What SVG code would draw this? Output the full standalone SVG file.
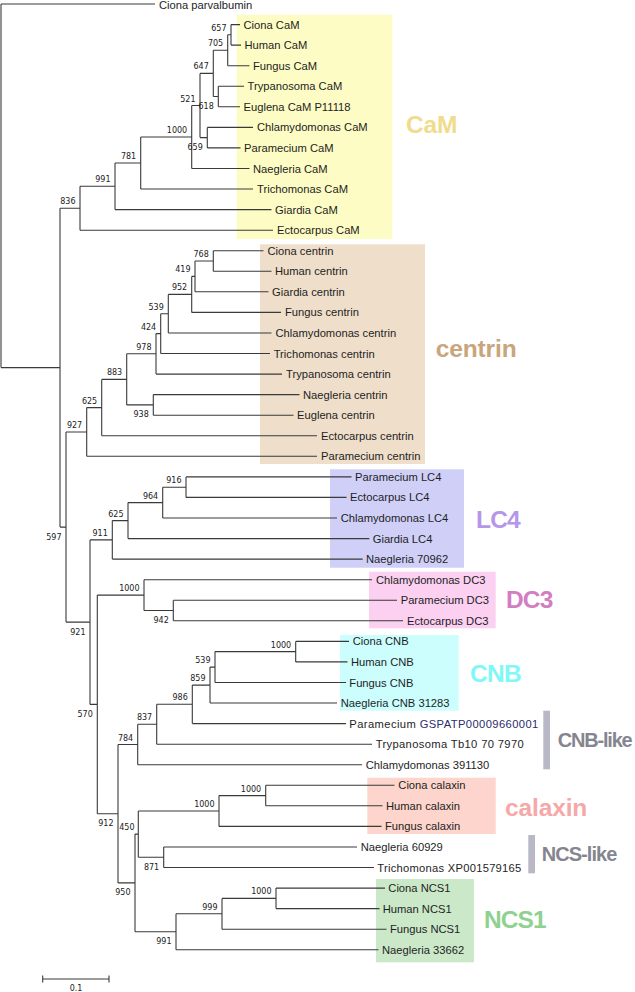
<svg xmlns="http://www.w3.org/2000/svg" width="635" height="992" viewBox="0 0 635 992">
<style>
.br{fill:none;stroke:#3a3a3a;stroke-width:1.1}
.lf{font-family:"Liberation Sans",Arial,sans-serif;font-size:11.2px;fill:#1e1e1e}
.bs{font-family:"DejaVu Sans",sans-serif;font-size:8px;fill:#222;text-anchor:end}
.cl{font-family:"Liberation Sans",Arial,sans-serif;font-weight:bold;font-size:24.5px}
.cs{font-family:"Liberation Sans",Arial,sans-serif;font-weight:bold;font-size:20px;fill:#858590}
</style>
<rect width="635" height="992" fill="#fff"/>
<g id="clades">
<rect x="236.7" y="14.7" width="155.6" height="224.3" fill="#fdfcc4"/>
<rect x="260" y="244.3" width="165" height="219.7" fill="#efdfca"/>
<rect x="330" y="469.3" width="134" height="98.4" fill="#cfcff7"/>
<rect x="369" y="571.7" width="126.7" height="56.6" fill="#fbd0f1"/>
<rect x="340" y="635" width="118.7" height="75.7" fill="#ccfefe"/>
<rect x="367.3" y="777.7" width="128.4" height="56.3" fill="#fdd5cc"/>
<rect x="376" y="879" width="98" height="83.3" fill="#cbe8c9"/>
<rect x="543.3" y="710.7" width="6.7" height="58.6" fill="#b8b8c6"/>
<rect x="528.3" y="835" width="6.7" height="38.3" fill="#b8b8c6"/>
<text class="cl" x="406" y="133.3" fill="#f0dc8c" textLength="51.3">CaM</text>
<text class="cl" x="435.7" y="357.3" fill="#c9a57c" textLength="81">centrin</text>
<text class="cl" x="476" y="528.3" fill="#b596e8" textLength="44.7">LC4</text>
<text class="cl" x="506" y="608.3" fill="#d17fc2" textLength="47.3">DC3</text>
<text class="cl" x="470" y="681.7" fill="#80f8f8" textLength="51.7">CNB</text>
<text class="cs" x="557.7" y="747.3" textLength="75">CNB-like</text>
<text class="cl" x="505" y="816" fill="#f6a8a8" textLength="82.3">calaxin</text>
<text class="cs" x="541.7" y="861" textLength="75.7">NCS-like</text>
<text class="cl" x="484" y="928.3" fill="#8fd18f" textLength="62.7">NCS1</text>
</g>
<g id="connectors" class="br">
<path d="M1,4V367.6M1,367.6H60M60,208.2V527.1"/>
<path d="M60,208.2H80M80,186.3V230.2M80,186.3H115M115,163V209.6M115,163H140.7M140.7,137V189M140.7,137H191.7M191.7,105.5V168.5M191.7,105.5H200M200,73.4V137.6M200,73.4H213.3M213.3,50.3V96.5M213.3,50.3H227.7M227.7,34.8V65.7M227.7,34.8H231M231,24.6V45.1M213.3,96.5H218.3M218.3,86.2V106.8M200,137.6H207.3M207.3,127.4V147.9"/>
<path d="M60,527.1H66M66,432V622.1M66,432H86.7M86.7,407.6V456.3M86.7,407.6H101.7M101.7,379.4V435.8M101.7,379.4H126.7M126.7,353.8V404.9M126.7,353.8H156M156,333.6V374.1M156,333.6H160.7M160.7,313.7V353.5M160.7,313.7H168.3M168.3,294.4V333M168.3,294.4H191.7M191.7,276.4V312.4M191.7,276.4H195M195,261V291.8M195,261H213.3M213.3,250.7V271.3M126.7,404.9H153.3M153.3,394.6V415.2"/>
<path d="M66,622.1H90M90,539.9V704.4M90,539.9H112.3M112.3,520.6V559.1M112.3,520.6H128M128,502.6V538.6M128,502.6H162.7M162.7,487.2V518M162.7,487.2H186M186,476.9V497.4"/>
<path d="M90,704.4H97.3M97.3,595.1V813.7M97.3,595.1H144M144,579.7V610.5M144,610.5H173.3M173.3,600.2V620.8M97.3,813.7H118M118,744.5V882.9M118,744.5H137.7M137.7,724.2V764.7M137.7,724.2H156.7M156.7,704.3V744.2M156.7,704.3H192.3M192.3,685.1V723.6M192.3,685.1H210M210,667.1V703M210,667.1H215M215,651.6V682.5M215,651.6H295.7M295.7,641.4V661.9"/>
<path d="M118,882.9H135M135,834.1V931.8M135,834.1H138.3M138.3,811V857.2M138.3,811H219M219,795.6V826.4M219,795.6H265.7M265.7,785.3V805.8M138.3,857.2H163.7M163.7,847V867.5M135,931.8H176M176,913.8V949.8M176,913.8H222M222,898.4V929.2M222,898.4H276M276,888.1V908.6"/>
<path d="M1,4H155M231,24.6H240M231,45.1H241M227.7,65.7H249.5M218.3,86.2H244M218.3,106.8H240M207.3,127.4H253M207.3,147.9H240.5M191.7,168.5H249.5M140.7,189H253M115,209.6H271.5M80,230.2H273"/>
<path d="M213.3,250.7H263.5M213.3,271.3H271.5M195,291.8H268.5M191.7,312.4H281M168.3,333H271.5M160.7,353.5H270M156,374.1H282M153.3,394.6H299.5M153.3,415.2H293.5M101.7,435.8H317M86.7,456.3H317"/>
<path d="M186,476.9H351.5M186,497.4H346.5M162.7,518H337M128,538.6H369.3M112.3,559.1H362.7M144,579.7H372M173.3,600.2H397M173.3,620.8H403"/>
<path d="M295.7,641.4H349M295.7,661.9H347.5M215,682.5H346M210,703H337M192.3,723.6H346M156.7,744.2H372M137.7,764.7H362M265.7,785.3H394.5M265.7,805.8H382.5M219,826.4H381.5M163.7,847H357M163.7,867.5H374M276,888.1H385M276,908.6H379.5M222,929.2H386.5M176,949.8H378.5"/>
</g>
<g id="leaves" class="lf">
<g id="leaf-ciona-parvalbumin"><text x="159" y="9">Ciona parvalbumin</text></g>
<g id="leaf-ciona-cam"><text x="243.5" y="28.6">Ciona CaM</text></g>
<g id="leaf-human-cam"><text x="244.5" y="49.1">Human CaM</text></g>
<g id="leaf-fungus-cam"><text x="253" y="69.7">Fungus CaM</text></g>
<g id="leaf-trypanosoma-cam"><text x="247.5" y="90.2">Trypanosoma CaM</text></g>
<g id="leaf-euglena-cam"><text x="243.5" y="110.8">Euglena CaM P11118</text></g>
<g id="leaf-chlamydomonas-cam"><text x="257" y="131.4">Chlamydomonas CaM</text></g>
<g id="leaf-paramecium-cam"><text x="244" y="151.9">Paramecium CaM</text></g>
<g id="leaf-naegleria-cam"><text x="253" y="172.5">Naegleria CaM</text></g>
<g id="leaf-trichomonas-cam"><text x="257" y="193">Trichomonas CaM</text></g>
<g id="leaf-giardia-cam"><text x="275" y="213.6">Giardia CaM</text></g>
<g id="leaf-ectocarpus-cam"><text x="277" y="234.2">Ectocarpus CaM</text></g>
<g id="leaf-ciona-centrin"><text x="267.5" y="254.7">Ciona centrin</text></g>
<g id="leaf-human-centrin"><text x="275" y="275.3">Human centrin</text></g>
<g id="leaf-giardia-centrin"><text x="272" y="295.8">Giardia centrin</text></g>
<g id="leaf-fungus-centrin"><text x="285" y="316.4">Fungus centrin</text></g>
<g id="leaf-chlamydomonas-centrin"><text x="275.5" y="337">Chlamydomonas centrin</text></g>
<g id="leaf-trichomonas-centrin"><text x="273.7" y="357.5">Trichomonas centrin</text></g>
<g id="leaf-trypanosoma-centrin"><text x="286" y="378.1">Trypanosoma centrin</text></g>
<g id="leaf-naegleria-centrin"><text x="303" y="398.6">Naegleria centrin</text></g>
<g id="leaf-euglena-centrin"><text x="297" y="419.2">Euglena centrin</text></g>
<g id="leaf-ectocarpus-centrin"><text x="321" y="439.8">Ectocarpus centrin</text></g>
<g id="leaf-paramecium-centrin"><text x="321" y="460.3">Paramecium centrin</text></g>
<g id="leaf-paramecium-lc4"><text x="355" y="480.9">Paramecium LC4</text></g>
<g id="leaf-ectocarpus-lc4"><text x="350" y="501.4">Ectocarpus LC4</text></g>
<g id="leaf-chlamydomonas-lc4"><text x="340.7" y="522">Chlamydomonas LC4</text></g>
<g id="leaf-giardia-lc4"><text x="372.7" y="542.6">Giardia LC4</text></g>
<g id="leaf-naegleria-70962"><text x="366" y="563.1">Naegleria 70962</text></g>
<g id="leaf-chlamydomonas-dc3"><text x="376" y="583.7">Chlamydomonas DC3</text></g>
<g id="leaf-paramecium-dc3"><text x="400.7" y="604.2">Paramecium DC3</text></g>
<g id="leaf-ectocarpus-dc3"><text x="407" y="624.8">Ectocarpus DC3</text></g>
<g id="leaf-ciona-cnb"><text x="352.7" y="645.4">Ciona CNB</text></g>
<g id="leaf-human-cnb"><text x="351" y="665.9">Human CNB</text></g>
<g id="leaf-fungus-cnb"><text x="349.3" y="686.5">Fungus CNB</text></g>
<g id="leaf-naegleria-cnb"><text x="340.7" y="707">Naegleria CNB 31283</text></g>
<g id="leaf-paramecium-gspatp"><text x="349.3" y="727.6" textLength="189">Paramecium <tspan fill="#2c2c6e">GSPATP00009660001</tspan></text></g>
<g id="leaf-trypanosoma-tb10"><text x="375.7" y="748.2" textLength="148">Trypanosoma Tb10 70 7970</text></g>
<g id="leaf-chlamydomonas-391130"><text x="365.7" y="768.7">Chlamydomonas 391130</text></g>
<g id="leaf-ciona-calaxin"><text x="398.3" y="789.3">Ciona calaxin</text></g>
<g id="leaf-human-calaxin"><text x="386" y="809.8">Human calaxin</text></g>
<g id="leaf-fungus-calaxin"><text x="385" y="830.4">Fungus calaxin</text></g>
<g id="leaf-naegleria-60929"><text x="360.7" y="851">Naegleria 60929</text></g>
<g id="leaf-trichomonas-xp"><text x="377.3" y="871.5" textLength="144">Trichomonas XP001579165</text></g>
<g id="leaf-ciona-ncs1"><text x="388.3" y="892.1">Ciona NCS1</text></g>
<g id="leaf-human-ncs1"><text x="382.7" y="912.6">Human NCS1</text></g>
<g id="leaf-fungus-ncs1"><text x="390" y="933.2">Fungus NCS1</text></g>
<g id="leaf-naegleria-33662"><text x="382" y="953.8">Naegleria 33662</text></g>
</g>
<g id="bootstrap" class="bs">
<text x="226.5" y="30.8">657</text>
<text x="223.2" y="46.3">705</text>
<text x="208.8" y="69.4">647</text>
<text x="213.8" y="109">618</text>
<text x="202.8" y="150.1">659</text>
<text x="195.5" y="101.5">521</text>
<text x="187.2" y="133">1000</text>
<text x="136.2" y="159">781</text>
<text x="110.5" y="182.3">991</text>
<text x="75.5" y="204.2">836</text>
<text x="61.5" y="539.6">597</text>
<text x="82.2" y="428">927</text>
<text x="97.2" y="403.6">625</text>
<text x="122.2" y="375.4">883</text>
<text x="151.5" y="349.8">978</text>
<text x="156.2" y="329.6">424</text>
<text x="163.8" y="309.7">539</text>
<text x="187.2" y="290.4">952</text>
<text x="190.5" y="272.4">419</text>
<text x="208.8" y="257">768</text>
<text x="148.8" y="417.4">938</text>
<text x="85.5" y="634.6">921</text>
<text x="107.8" y="535.9">911</text>
<text x="123.5" y="516.6">625</text>
<text x="158.2" y="498.6">964</text>
<text x="181.5" y="483.2">916</text>
<text x="92.8" y="716.9">570</text>
<text x="139.5" y="591.1">1000</text>
<text x="168.8" y="623">942</text>
<text x="113.5" y="826.2">912</text>
<text x="133.2" y="740.5">784</text>
<text x="152.2" y="720.2">837</text>
<text x="187.8" y="700.3">986</text>
<text x="205.5" y="681.1">859</text>
<text x="210.5" y="663.1">539</text>
<text x="291.2" y="647.6">1000</text>
<text x="130.5" y="895.4">950</text>
<text x="134.5" y="830.1">450</text>
<text x="214.5" y="807">1000</text>
<text x="261.2" y="791.6">1000</text>
<text x="159.2" y="869.7">871</text>
<text x="171.5" y="944.3">991</text>
<text x="217.5" y="909.8">999</text>
<text x="271.5" y="894.4">1000</text>
</g>
<g id="scale-bar">
<path class="br" d="M42.7,979H109M42.7,975.5V982.5M109,975.5V982.5"/>
<text x="76" y="991" font-family="DejaVu Sans, sans-serif" font-size="8" fill="#222" text-anchor="middle">0.1</text>
</g>
</svg>
